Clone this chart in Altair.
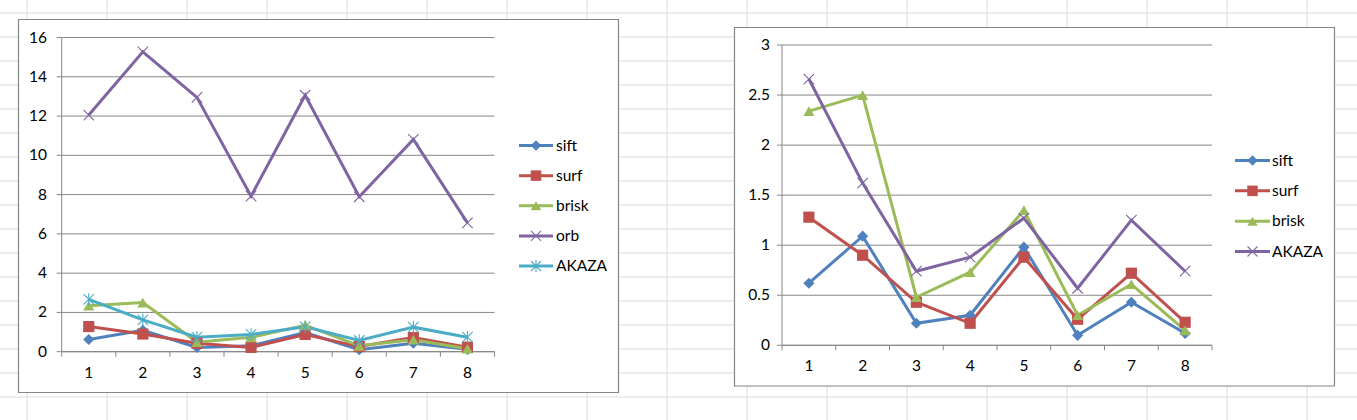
import altair as alt
import pandas as pd

# ---------------- data ----------------
categories = [1, 2, 3, 4, 5, 6, 7, 8]
sift = [0.62, 1.09, 0.22, 0.30, 0.98, 0.10, 0.43, 0.12]
surf = [1.28, 0.90, 0.43, 0.22, 0.88, 0.26, 0.72, 0.23]
brisk = [2.34, 2.50, 0.48, 0.73, 1.35, 0.30, 0.61, 0.15]
orb = [12.05, 15.27, 12.95, 7.92, 13.06, 7.89, 10.81, 6.56]
akaza = [2.66, 1.62, 0.74, 0.88, 1.27, 0.57, 1.25, 0.74]

left_names = ["sift", "surf", "brisk", "orb", "AKAZA"]
left_values = [sift, surf, brisk, orb, akaza]
left_colors = ["#4F81BD", "#C0504D", "#9BBB59", "#8064A2", "#4BACC6"]

right_names = ["sift", "surf", "brisk", "AKAZA"]
right_values = [sift, surf, brisk, akaza]
right_colors = ["#4F81BD", "#C0504D", "#9BBB59", "#8064A2"]

left_ticks = [0, 2, 4, 6, 8, 10, 12, 14, 16]
left_tick_labels = ["0", "2", "4", "6", "8", "10", "12", "14", "16"]
right_ticks = [0, 0.5, 1, 1.5, 2, 2.5, 3]
right_tick_labels = ["0", "0.5", "1", "1.5", "2", "2.5", "3"]

X_PATH = "M-1,-1L1,1M-1,1L1,-1"
STAR_PATH = "M-1,-1L1,1M-1,1L1,-1M0,-1.2L0,1.2"
SHAPES = {"sift": "diamond", "surf": "square", "brisk": "triangle-up"}
FILLED = ["sift", "surf", "brisk"]

FONT = "Lato"
FS = 15.5
GRID = "#868686"


def long_df(names, values):
    rows = []
    for n, vals in zip(names, values):
        for c, v in zip(categories, vals):
            rows.append({"series": n, "cat": c, "val": v})
    return pd.DataFrame(rows)


def panel(names, values, colors, ticks, tick_labels, x0, x1, yb, yt,
          lab_right, xlab_y, leg_rows, leg_x0, leg_x1, leg_tx, box):
    ymax = ticks[-1]
    xs = alt.Scale(domain=[0.5, 8.5], range=[x0, x1], nice=False, zero=False)
    ys = alt.Scale(domain=[0, ymax], range=[yb, yt], nice=False, zero=False)
    shapes = [SHAPES.get(n, X_PATH if n == "orb" or (n == "AKAZA" and len(names) == 4) else STAR_PATH)
              for n in names]
    cscale = alt.Scale(domain=names, range=colors)
    sscale = alt.Scale(domain=names, range=shapes)
    df = long_df(names, values)
    tdf = pd.DataFrame({"v": ticks, "lab": tick_labels})
    catdf = pd.DataFrame({"cat": categories, "lab": [str(c) for c in categories]})
    bounds = pd.DataFrame({"b": [c - 0.5 for c in categories] + [8.5]})

    boxdf = pd.DataFrame({"x": [box[0]], "x2": [box[1]], "y": [box[2]], "y2": [box[3]]})
    frame = alt.Chart(boxdf).mark_rect(fill="white", stroke="#868686", strokeWidth=1.2).encode(
        x=alt.X("x:Q", scale=None), x2="x2:Q", y=alt.Y("y:Q", scale=None), y2="y2:Q")

    grid = alt.Chart(tdf).mark_rule(color=GRID, strokeWidth=1).encode(
        y=alt.Y("v:Q", scale=ys, axis=None), x=alt.value(x0), x2=alt.value(x1))
    yticks = alt.Chart(tdf).mark_rule(color=GRID, strokeWidth=1).encode(
        y=alt.Y("v:Q", scale=ys, axis=None), x=alt.value(x0 - 5), x2=alt.value(x0))
    ylabels = alt.Chart(tdf).mark_text(align="right", baseline="middle", font=FONT,
                                       fontSize=FS, color="black").encode(
        y=alt.Y("v:Q", scale=ys, axis=None), x=alt.value(lab_right), text="lab:N")
    yaxis = alt.Chart(pd.DataFrame({"a": [0], "b": [ymax]})).mark_rule(
        color=GRID, strokeWidth=1).encode(
        y=alt.Y("a:Q", scale=ys, axis=None), y2="b:Q", x=alt.value(x0))
    xaxis = alt.Chart(pd.DataFrame({"a": [0.5], "b": [8.5], "z": [0]})).mark_rule(
        color=GRID, strokeWidth=1).encode(
        x=alt.X("a:Q", scale=xs, axis=None), x2="b:Q", y=alt.Y("z:Q", scale=ys, axis=None))
    xticks = alt.Chart(bounds).mark_rule(color=GRID, strokeWidth=1).encode(
        x=alt.X("b:Q", scale=xs, axis=None), y=alt.value(yb), y2=alt.value(yb + 5))
    xlabels = alt.Chart(catdf).mark_text(align="center", baseline="middle", font=FONT,
                                         fontSize=FS, color="black").encode(
        x=alt.X("cat:Q", scale=xs, axis=None), y=alt.value(xlab_y), text="lab:N")

    color = alt.Color("series:N", scale=cscale, legend=None)
    shape = alt.Shape("series:N", scale=sscale, legend=None)

    lines = alt.Chart(df).mark_line(strokeWidth=3).encode(
        x=alt.X("cat:Q", scale=xs, axis=None), y=alt.Y("val:Q", scale=ys, axis=None),
        color=color, detail="series:N")
    pts_f = alt.Chart(df).mark_point(filled=True, size=125, opacity=1).encode(
        x=alt.X("cat:Q", scale=xs, axis=None), y=alt.Y("val:Q", scale=ys, axis=None),
        color=color, shape=shape).transform_filter(
        alt.FieldOneOfPredicate(field="series", oneOf=FILLED))
    pts_s = alt.Chart(df).mark_point(filled=False, size=110, strokeWidth=1.1, opacity=1).encode(
        x=alt.X("cat:Q", scale=xs, axis=None), y=alt.Y("val:Q", scale=ys, axis=None),
        color=color, shape=shape).transform_filter(
        alt.FieldOneOfPredicate(field="series", oneOf=[n for n in names if n not in FILLED]))

    plot = alt.layer(frame, grid, yticks, ylabels, yaxis, xaxis, xticks, xlabels,
                     lines, pts_f, pts_s)

    ldf = pd.DataFrame({"series": names})
    lys = alt.Scale(type="point", domain=names, range=leg_rows, padding=0)
    leg_line = alt.Chart(ldf).mark_rule(strokeWidth=3).encode(
        y=alt.Y("series:N", scale=lys, axis=None), x=alt.value(leg_x0), x2=alt.value(leg_x1),
        color=color)
    leg_pf = alt.Chart(ldf).mark_point(filled=True, size=110, opacity=1).encode(
        y=alt.Y("series:N", scale=lys, axis=None), x=alt.value((leg_x0 + leg_x1) / 2),
        color=color, shape=shape).transform_filter(
        alt.FieldOneOfPredicate(field="series", oneOf=FILLED))
    leg_ps = alt.Chart(ldf).mark_point(filled=False, size=100, strokeWidth=1.1, opacity=1).encode(
        y=alt.Y("series:N", scale=lys, axis=None), x=alt.value((leg_x0 + leg_x1) / 2),
        color=color, shape=shape).transform_filter(
        alt.FieldOneOfPredicate(field="series", oneOf=[n for n in names if n not in FILLED]))
    leg_txt = alt.Chart(ldf).mark_text(align="left", baseline="middle", font=FONT,
                                       fontSize=FS, color="black").encode(
        y=alt.Y("series:N", scale=lys, axis=None), x=alt.value(leg_tx), text="series:N")
    legend = alt.layer(leg_line, leg_pf, leg_ps, leg_txt)

    return alt.layer(plot, legend).resolve_scale(y="independent")


# ---------------- spreadsheet background ----------------
col_lines = [27 + 80 * k for k in range(17)]
row_lines = [13 + 24 * k for k in range(17)]
vdf = pd.DataFrame({"x": col_lines})
hdf = pd.DataFrame({"y": row_lines})
sheet_v = alt.Chart(vdf).mark_rule(color="#DADCDD", strokeWidth=1).encode(
    x=alt.X("x:Q", scale=None), y=alt.value(0), y2=alt.value(420))
sheet_h = alt.Chart(hdf).mark_rule(color="#DADCDD", strokeWidth=1).encode(
    y=alt.Y("y:Q", scale=None), x=alt.value(0), x2=alt.value(1357))
sheet = alt.layer(sheet_v, sheet_h)

left = panel(left_names, left_values, left_colors, left_ticks, left_tick_labels,
             x0=61.7, x1=494.5, yb=351.7, yt=37.5, lab_right=47, xlab_y=373,
             leg_rows=[145.5, 266], leg_x0=519, leg_x1=553, leg_tx=556,
             box=(18.5, 618.5, 19.5, 392.5))
right = panel(right_names, right_values, right_colors, right_ticks, right_tick_labels,
              x0=782, x1=1212, yb=345.3, yt=45, lab_right=770, xlab_y=366,
              leg_rows=[160.5, 251.5], leg_x0=1235, leg_x1=1270, leg_tx=1272,
              box=(734.5, 1334.5, 27.5, 386))

chart = alt.layer(sheet, left, right).resolve_scale(
    x="independent", y="independent", color="independent", shape="independent"
).properties(
    width=1357, height=420, autosize=alt.AutoSizeParams(type="none"), padding=0,
    background="white"
).configure_view(stroke=None)

chart.save("out.html", embed_options={"renderer": "svg", "actions": False})
